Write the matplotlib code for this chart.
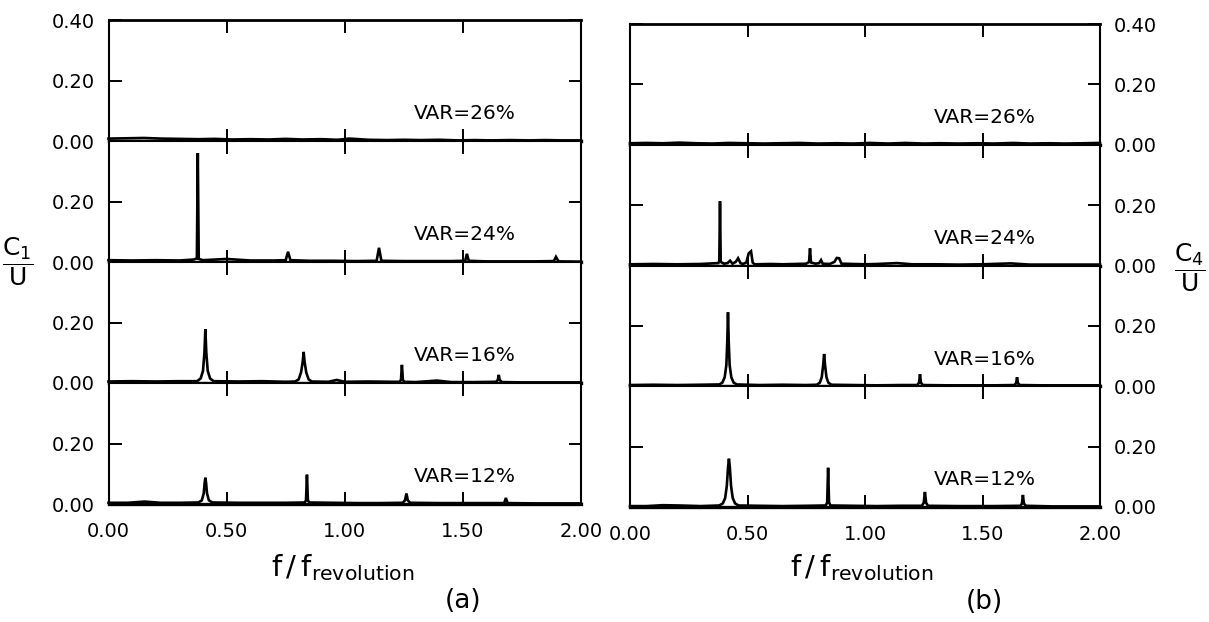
import matplotlib.pyplot as plt

# frequency (f / f_revolution) and amplitude values
# panel (a): C1/U
freq_a26 = [0.00, 0.08, 0.15, 0.22, 0.30, 0.38, 0.45, 0.52, 0.60, 0.68, 0.75, 0.82, 0.90, 0.97, 1.02,
            1.10, 1.18, 1.25, 1.32, 1.40, 1.48, 1.55, 1.62, 1.70, 1.78, 1.85, 1.92, 2.00]
amp_a26 = [0.008, 0.009, 0.010, 0.008, 0.007, 0.006, 0.007, 0.005, 0.006, 0.005, 0.007, 0.005, 0.006, 0.004, 0.008,
           0.004, 0.003, 0.004, 0.003, 0.004, 0.002, 0.003, 0.002, 0.003, 0.002, 0.003, 0.002, 0.002]

freq_a24 = [0.00, 0.10, 0.20, 0.30, 0.36, 0.374, 0.378, 0.382, 0.40, 0.50, 0.60, 0.70, 0.75, 0.76, 0.77,
            0.85, 0.95, 1.05, 1.135, 1.145, 1.155, 1.25, 1.35, 1.45, 1.51, 1.517, 1.525, 1.60, 1.70, 1.80,
            1.885, 1.894, 1.905, 2.00]
amp_a24 = [0.006, 0.005, 0.006, 0.005, 0.008, 0.012, 0.360, 0.010, 0.006, 0.010, 0.005, 0.005, 0.006, 0.034, 0.006,
           0.004, 0.004, 0.003, 0.004, 0.047, 0.004, 0.003, 0.003, 0.003, 0.004, 0.027, 0.004, 0.002, 0.002, 0.002,
           0.003, 0.017, 0.002, 0.001]

freq_a16 = [0.00, 0.10, 0.20, 0.30, 0.375, 0.39, 0.40, 0.406, 0.41, 0.414, 0.42, 0.43, 0.445, 0.55, 0.65,
            0.75, 0.79, 0.805, 0.815, 0.822, 0.826, 0.830, 0.837, 0.847, 0.86, 0.93, 0.966, 1.00, 1.10, 1.20,
            1.232, 1.238, 1.242, 1.246, 1.252, 1.30, 1.39, 1.45, 1.55, 1.64, 1.648, 1.652, 1.656, 1.665,
            1.75, 1.85, 2.00]
amp_a16 = [0.005, 0.006, 0.005, 0.006, 0.006, 0.015, 0.040, 0.100, 0.178, 0.100, 0.040, 0.015, 0.006, 0.005, 0.006,
           0.004, 0.005, 0.012, 0.035, 0.070, 0.103, 0.070, 0.035, 0.012, 0.005, 0.004, 0.010, 0.004, 0.005, 0.004,
           0.004, 0.010, 0.060, 0.010, 0.004, 0.003, 0.008, 0.003, 0.003, 0.004, 0.010, 0.027, 0.010, 0.003,
           0.002, 0.002, 0.002]

freq_a12 = [0.00, 0.08, 0.153, 0.22, 0.30, 0.38, 0.395, 0.403, 0.407, 0.41, 0.413, 0.417, 0.425, 0.44, 0.55,
            0.65, 0.75, 0.83, 0.836, 0.84, 0.844, 0.85, 0.95, 1.05, 1.15, 1.245, 1.255, 1.261, 1.267, 1.277,
            1.40, 1.55, 1.675, 1.682, 1.689, 1.80, 2.00]
amp_a12 = [0.004, 0.004, 0.008, 0.004, 0.004, 0.005, 0.012, 0.035, 0.070, 0.087, 0.070, 0.035, 0.012, 0.005, 0.004,
           0.004, 0.004, 0.005, 0.012, 0.097, 0.012, 0.005, 0.004, 0.003, 0.003, 0.004, 0.012, 0.035, 0.012, 0.004,
           0.003, 0.003, 0.003, 0.020, 0.003, 0.002, 0.002]

# panel (b): C4/U
freq_b26 = [0.00, 0.07, 0.14, 0.21, 0.28, 0.35, 0.42, 0.50, 0.57, 0.64, 0.72, 0.80, 0.88, 0.95, 1.02,
            1.10, 1.17, 1.25, 1.32, 1.40, 1.48, 1.55, 1.63, 1.70, 1.78, 1.85, 1.93, 2.00]
amp_b26 = [0.005, 0.006, 0.005, 0.007, 0.005, 0.004, 0.006, 0.005, 0.004, 0.005, 0.006, 0.004, 0.005, 0.004, 0.006,
           0.004, 0.006, 0.004, 0.005, 0.004, 0.005, 0.004, 0.006, 0.004, 0.005, 0.004, 0.005, 0.006]

freq_b24 = [0.00, 0.10, 0.20, 0.30, 0.376, 0.380, 0.383, 0.386, 0.40, 0.415, 0.426, 0.436, 0.45, 0.46, 0.47,
            0.48, 0.495, 0.505, 0.515, 0.522, 0.53, 0.60, 0.65, 0.70, 0.75, 0.762, 0.766, 0.770, 0.79, 0.805,
            0.813, 0.82, 0.85, 0.87, 0.88, 0.89, 0.90, 0.95, 1.00, 1.05, 1.136, 1.20, 1.30, 1.40, 1.50, 1.62,
            1.70, 1.80, 1.90, 2.00]
amp_b24 = [0.004, 0.005, 0.004, 0.005, 0.008, 0.015, 0.213, 0.012, 0.006, 0.008, 0.016, 0.006, 0.012, 0.024, 0.008,
           0.005, 0.010, 0.040, 0.047, 0.010, 0.004, 0.005, 0.004, 0.005, 0.006, 0.012, 0.057, 0.010, 0.006, 0.008,
           0.018, 0.006, 0.005, 0.012, 0.025, 0.024, 0.006, 0.005, 0.004, 0.005, 0.008, 0.004, 0.004, 0.003, 0.004,
           0.007, 0.003, 0.003, 0.003, 0.003]

freq_b16 = [0.00, 0.10, 0.20, 0.30, 0.38, 0.393, 0.403, 0.41, 0.414, 0.417, 0.420, 0.424, 0.431, 0.441, 0.455,
            0.55, 0.65, 0.75, 0.795, 0.808, 0.816, 0.822, 0.826, 0.830, 0.836, 0.844, 0.857, 0.95, 1.05, 1.15,
            1.222, 1.230, 1.234, 1.238, 1.246, 1.35, 1.45, 1.55, 1.636, 1.643, 1.647, 1.651, 1.658, 1.75,
            1.85, 2.00]
amp_b16 = [0.004, 0.005, 0.004, 0.005, 0.006, 0.012, 0.030, 0.070, 0.150, 0.245, 0.150, 0.070, 0.030, 0.012, 0.006,
           0.004, 0.005, 0.004, 0.005, 0.012, 0.030, 0.070, 0.107, 0.070, 0.030, 0.012, 0.005, 0.004, 0.003, 0.004,
           0.004, 0.012, 0.040, 0.012, 0.004, 0.003, 0.003, 0.003, 0.004, 0.010, 0.030, 0.010, 0.004, 0.003,
           0.003, 0.003]

freq_b12 = [0.00, 0.07, 0.14, 0.21, 0.30, 0.38, 0.395, 0.405, 0.412, 0.417, 0.421, 0.425, 0.43, 0.437, 0.447,
            0.462, 0.55, 0.65, 0.75, 0.833, 0.839, 0.843, 0.847, 0.853, 0.95, 1.05, 1.15, 1.242, 1.250, 1.255,
            1.260, 1.268, 1.40, 1.55, 1.662, 1.668, 1.672, 1.676, 1.684, 1.80, 2.00]
amp_b12 = [0.003, 0.003, 0.006, 0.005, 0.003, 0.005, 0.012, 0.030, 0.070, 0.130, 0.160, 0.130, 0.070, 0.030, 0.012,
           0.005, 0.004, 0.003, 0.004, 0.005, 0.015, 0.130, 0.015, 0.005, 0.004, 0.003, 0.004, 0.004, 0.014, 0.050,
           0.014, 0.004, 0.003, 0.003, 0.004, 0.012, 0.040, 0.012, 0.004, 0.002, 0.002]

var_labels = ['VAR=26%', 'VAR=24%', 'VAR=16%', 'VAR=12%']
x_ticks = [0.0, 0.5, 1.0, 1.5, 2.0]
x_ticklabels = ['0.00', '0.50', '1.00', '1.50', '2.00']

panel_a = [(freq_a26, amp_a26), (freq_a24, amp_a24), (freq_a16, amp_a16), (freq_a12, amp_a12)]
panel_b = [(freq_b26, amp_b26), (freq_b24, amp_b24), (freq_b16, amp_b16), (freq_b12, amp_b12)]

W, H = 1209, 622
fig = plt.figure(figsize=(W / 100, H / 100), dpi=100)


def draw_panel(series, box, side):
    left, right, top, bottom = box
    gs = fig.add_gridspec(4, 1, left=left / W, right=right / W, top=1 - top / H,
                          bottom=1 - bottom / H, hspace=0)
    for i, (fx, fy) in enumerate(series):
        ax = fig.add_subplot(gs[i])
        ax.plot(fx, fy, color='black', lw=1.9, clip_on=False, solid_joinstyle='miter')
        ax.set_xlim(0, 2)
        ax.set_ylim(0, 0.4)
        ax.set_xticks(x_ticks)
        ax.set_xticklabels(x_ticklabels)
        if i == 0:
            ax.set_yticks([0.0, 0.2, 0.4])
            ax.set_yticklabels(['0.00', '0.20', '0.40'])
        else:
            ax.set_yticks([0.0, 0.2])
            ax.set_yticklabels(['0.00', '0.20'])
        ax.tick_params(axis='both', direction='in', length=9, width=1.4,
                       top=True, bottom=True, left=True, right=True, labelsize=14)
        ax.tick_params(axis='x', pad=13, labelbottom=(i == 3))
        ax.tick_params(axis='y', pad=10, labelleft=(side == 'left'), labelright=(side == 'right'))
        for s in ['left', 'right', 'top']:
            ax.spines[s].set_linewidth(1.5)
        ax.spines['bottom'].set_linewidth(2.4)
        if i == 0:
            ax.spines['top'].set_linewidth(2.0)
        ax.text(1.51, 0.09, var_labels[i], fontsize=14.5, ha='center', va='center')


draw_panel(panel_a, (108.5, 581, 20, 504), 'left')
draw_panel(panel_b, (630, 1100, 24, 507), 'right')

fig.text(18 / W, 1 - 262 / H, r'$\dfrac{\mathrm{C}_1}{\mathrm{U}}$', fontsize=18, ha='center', va='center')
fig.text(1190 / W, 1 - 268 / H, r'$\dfrac{\mathrm{C}_4}{\mathrm{U}}$', fontsize=18, ha='center', va='center')

xlab = r'$\mathregular{f\,/\,f_{revolution}}$'
fig.text(343 / W, 1 - 568 / H, xlab, fontsize=21, ha='center', va='center')
fig.text(862 / W, 1 - 568 / H, xlab, fontsize=21, ha='center', va='center')
fig.text(463 / W, 1 - 601 / H, '(a)', fontsize=19, ha='center', va='center')
fig.text(984 / W, 1 - 602 / H, '(b)', fontsize=19, ha='center', va='center')

fig.savefig('out.png', dpi=100)
